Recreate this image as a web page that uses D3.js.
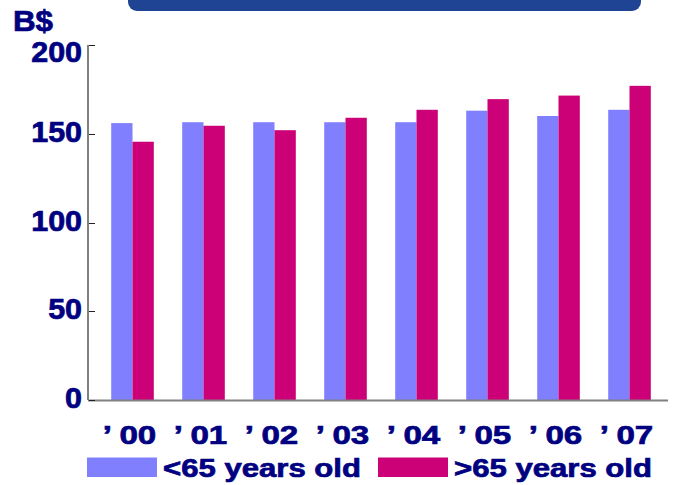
<!DOCTYPE html>
<html>
<head>
<meta charset="utf-8">
<script src="https://cdn.jsdelivr.net/npm/d3@7"></script>
<style>
  html, body { margin: 0; padding: 0; background: #fff; }
  svg { display: block; font-family: "Liberation Sans", Arial, sans-serif; font-weight: bold; }
  .lbl { fill: #000080; stroke: #000080; stroke-width: 0.7px; }
</style>
</head>
<body>
<svg id="chart" width="673" height="485"></svg>
<script>
// Spending in billions of dollars by age group, 2000-2007
const years = ["00", "01", "02", "03", "04", "05", "06", "07"];
const under65 = [156, 156.5, 156.5, 156.5, 156.5, 163, 160, 163.5];
const over65 = [145.5, 154.5, 152, 159, 163.5, 169.5, 171.5, 177];
const seriesNames = ["<65 years old", ">65 years old"];
const seriesColors = ["#8080FF", "#CC0077"];
const yTicks = [0, 50, 100, 150, 200];
const unitLabel = "B$";

const svg = d3.select("#chart");

const x = d3.scaleBand().domain(years).range([97, 665]).paddingInner(0.4).paddingOuter(0.2);
const xs = d3.scaleBand().domain([0, 1]).range([0, x.bandwidth()]);
const y = d3.scaleLinear().domain([0, 200]).range([400, 45]);

// header banner
svg.append("rect")
  .attr("x", 128).attr("y", -10).attr("width", 513).attr("height", 21)
  .attr("rx", 9).attr("fill", "#1F4493");

// bars
const rows = years.map((yr, i) => ({ yr, vals: [under65[i], over65[i]] }));
const groups = svg.append("g").selectAll("g").data(rows).join("g")
  .attr("transform", d => `translate(${x(d.yr)},0)`);
groups.selectAll("rect").data(d => d.vals).join("rect")
  .attr("x", (d, i) => xs(i))
  .attr("width", xs.bandwidth())
  .attr("y", d => y(d))
  .attr("height", d => y(0) - y(d))
  .attr("fill", (d, i) => seriesColors[i]);

// axis lines
svg.append("line").attr("x1", 88).attr("x2", 88).attr("y1", y(200)).attr("y2", y(0))
  .attr("stroke", "#808080").attr("stroke-width", 2);
svg.append("line").attr("x1", 88).attr("x2", 668).attr("y1", y(0) + 0.5).attr("y2", y(0) + 0.5)
  .attr("stroke", "#808080").attr("stroke-width", 2);

// y ticks and labels
const yAxis = svg.append("g");
yAxis.selectAll("line").data(yTicks).join("line")
  .attr("x1", 89).attr("x2", 95)
  .attr("y1", d => Math.round(y(d)) + 0.5).attr("y2", d => Math.round(y(d)) + 0.5)
  .attr("stroke", "#222").attr("stroke-width", 1);
yAxis.selectAll("text").data(yTicks).join("text")
  .attr("class", "lbl")
  .attr("transform", d => `translate(82,${y(d) + (d === 200 ? 17 : 8)}) scale(1.05,1)`)
  .attr("text-anchor", "end")
  .attr("font-size", 29)
  .text(d => d);

// unit label
svg.append("text").attr("class", "lbl")
  .attr("transform", "translate(13,31) scale(1.08,1)")
  .attr("font-size", 29).text(unitLabel);

// x labels
const xl = svg.append("g").selectAll("text").data(years).join("text")
  .attr("class", "lbl")
  .attr("transform", d => `translate(${x(d) + x.bandwidth() / 2 - 3},443.5) scale(1.25,1)`)
  .attr("text-anchor", "middle")
  .attr("font-size", 26.5);
xl.append("tspan").text("’");
xl.append("tspan").attr("dx", 6).text(d => d);

// legend
const legendX = [87, 378];
const leg = svg.append("g").selectAll("g").data(seriesNames).join("g")
  .attr("transform", (d, i) => `translate(${legendX[i]},0)`);
leg.append("rect").attr("x", 0).attr("y", 457.5).attr("width", 70).attr("height", 19.5)
  .attr("fill", (d, i) => seriesColors[i]);
leg.append("text")
  .attr("class", "lbl")
  .attr("transform", "translate(76,476.5) scale(1.22,1)")
  .attr("font-size", 25.5)
  .text(d => d);
</script>
</body>
</html>
